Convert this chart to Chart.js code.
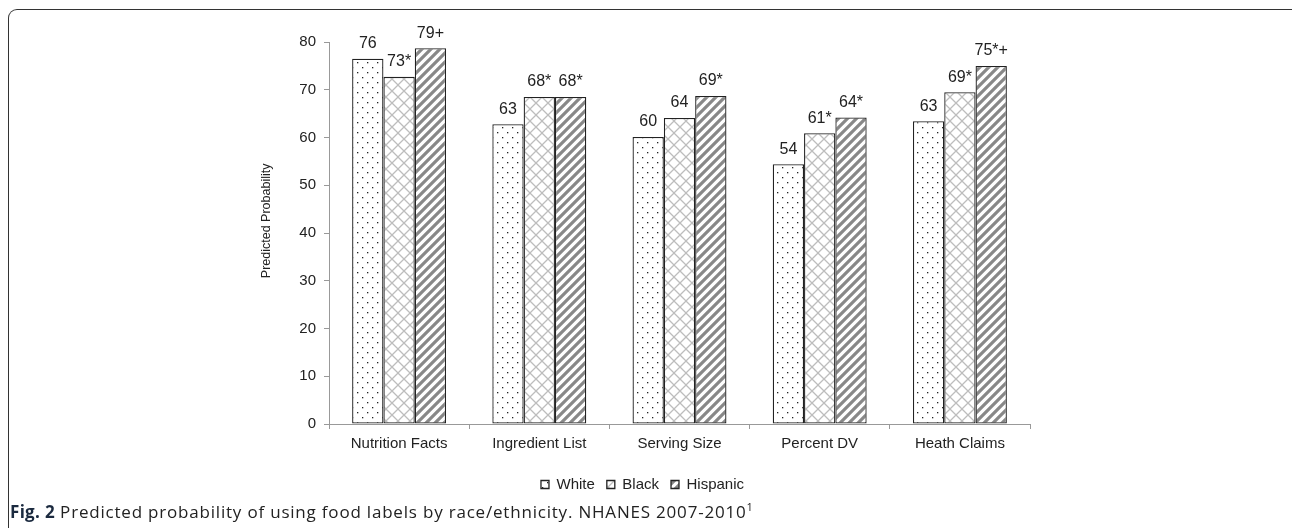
<!DOCTYPE html>
<html>
<head>
<meta charset="utf-8">
<script src="https://cdn.jsdelivr.net/npm/chart.js@4"></script>
<style>
  html, body { margin: 0; padding: 0; background: #fff; }
  body { width: 1292px; height: 528px; position: relative; overflow: hidden; }
  .frame {
    position: absolute; left: 8px; top: 9px; width: 1290px; height: 540px;
    border-top: 1.5px solid #333; border-left: 1.5px solid #333;
    border-right: 1.5px solid #333;
    border-radius: 9px;
  }
  #wrap { position: absolute; left: 230px; top: 25px; width: 830px; height: 477px; }
  .caption {
    position: absolute; left: 10px; top: 499px;
    font-family: "Open Sans", sans-serif; font-size: 17px; letter-spacing: 0.8px; color: #222;
  }
  .caption b { color: #1b2a3f; letter-spacing: 0.3px; }
  .caption sup { font-size: 11px; }
</style>
</head>
<body>
<div class="frame"></div>
<div id="wrap"><canvas id="c"></canvas></div>
<div class="caption"><b>Fig. 2</b> Predicted probability of using food labels by race/ethnicity. NHANES 2007-2010<sup>1</sup></div>
<script>
const categories = ['Nutrition Facts', 'Ingredient List', 'Serving Size', 'Percent DV', 'Heath Claims'];
const whiteVals = [76.5, 62.8, 60.1, 54.4, 63.4];
const blackVals = [72.7, 68.5, 64.1, 60.9, 69.5];
const hispanicVals = [78.7, 68.5, 68.7, 64.2, 75.0];
const whiteLabels = ['76', '63', '60', '54', '63'];
const blackLabels = ['73*', '68*', '64', '61*', '69*'];
const hispanicLabels = ['79+', '68*', '69*', '64*', '75*+'];
const yTicks = [0, 10, 20, 30, 40, 50, 60, 70, 80];

function dotPattern() {
  const c = document.createElement('canvas');
  c.width = 10; c.height = 10;
  const g = c.getContext('2d');
  g.fillStyle = '#fff'; g.fillRect(0, 0, 10, 10);
  g.fillStyle = '#222';
  g.fillRect(2, 2, 1.3, 1.3);
  g.fillRect(7, 7, 1.3, 1.3);
  return g.createPattern(c, 'repeat');
}
function crossPattern() {
  const c = document.createElement('canvas');
  c.width = 12; c.height = 12;
  const g = c.getContext('2d');
  g.fillStyle = '#fff'; g.fillRect(0, 0, 12, 12);
  g.strokeStyle = '#bdbdbd'; g.lineWidth = 1.3;
  g.beginPath();
  g.moveTo(-1, -1); g.lineTo(13, 13);
  g.moveTo(13, -1); g.lineTo(-1, 13);
  g.stroke();
  return g.createPattern(c, 'repeat');
}
function stripePattern() {
  const c = document.createElement('canvas');
  c.width = 9; c.height = 9;
  const g = c.getContext('2d');
  g.fillStyle = '#fff'; g.fillRect(0, 0, 9, 9);
  g.strokeStyle = '#888'; g.lineWidth = 3.2;
  g.beginPath();
  g.moveTo(-2, 11); g.lineTo(11, -2);
  g.moveTo(-2, 2); g.lineTo(2, -2);
  g.moveTo(7, 11); g.lineTo(11, 7);
  g.stroke();
  return g.createPattern(c, 'repeat');
}

const barLabels = {
  id: 'barLabels',
  afterDatasetsDraw(chart) {
    const ctx = chart.ctx;
    const sets = [whiteLabels, blackLabels, hispanicLabels];
    ctx.save();
    ctx.font = '16px "Liberation Sans", Arial, sans-serif';
    ctx.fillStyle = '#222';
    ctx.textAlign = 'center';
    ctx.textBaseline = 'bottom';
    chart.data.datasets.forEach((ds, di) => {
      chart.getDatasetMeta(di).data.forEach((bar, i) => {
        ctx.fillText(sets[di][i], bar.x, bar.y - 7);
      });
    });
    ctx.restore();
  }
};

const font = { family: '"Liberation Sans", Arial, sans-serif', size: 15 };
new Chart(document.getElementById('c'), {
  type: 'bar',
  data: {
    labels: categories,
    datasets: [
      { label: 'White', data: whiteVals, backgroundColor: dotPattern() },
      { label: 'Black', data: blackVals, backgroundColor: crossPattern() },
      { label: 'Hispanic', data: hispanicVals, backgroundColor: stripePattern() },
    ].map(d => Object.assign(d, {
      borderColor: '#222', borderWidth: 1.3, borderSkipped: false,
      categoryPercentage: 0.67, barPercentage: 1.0,
    })),
  },
  options: {
    responsive: true,
    maintainAspectRatio: false,
    animation: false,
    layout: { padding: { left: 25, right: 30, top: 0, bottom: 0 } },
    plugins: {
      tooltip: { enabled: false },
      legend: {
        position: 'bottom',
        labels: {
          color: '#222', font: { ...font, size: 15 },
          boxWidth: 8, boxHeight: 8, padding: 12,
        },
      },
    },
    scales: {
      x: {
        offset: true,
        grid: { offset: true, drawOnChartArea: false, color: '#999', tickLength: 5 },
        border: { color: '#999', width: 1 },
        ticks: { color: '#222', font, padding: 6, maxRotation: 0 },
        afterFit(scale) { scale.height += 6; },
      },
      y: {
        min: 0, max: 80,
        afterBuildTicks(scale) { scale.ticks = yTicks.map(v => ({ value: v })); },
        afterFit(scale) { scale.width = 74; },
        grid: { drawOnChartArea: false, color: '#999', tickLength: 5 },
        border: { color: '#999', width: 1 },
        ticks: { color: '#222', font, padding: 8 },
        title: { display: true, text: '\u00a0'.repeat(7) + 'Predicted Probability', color: '#222',
                 font: { ...font, size: 12.5 } },
      },
    },
  },
  plugins: [barLabels],
});
</script>
</body>
</html>
